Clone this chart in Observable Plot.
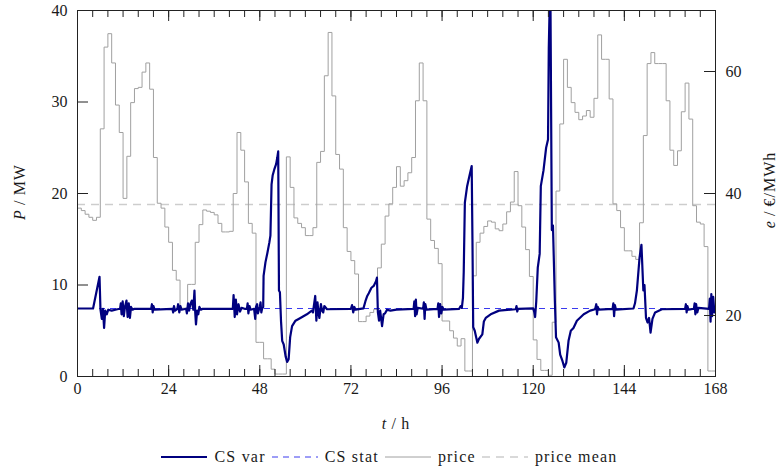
<!DOCTYPE html>
<html>
<head>
<meta charset="utf-8">
<script src="https://cdn.jsdelivr.net/npm/d3@7"></script>
<script src="https://cdn.jsdelivr.net/npm/@observablehq/plot@0.6"></script>
<style>
  html, body { margin: 0; padding: 0; background: #fff; overflow: hidden; }
  body { width: 779px; height: 469px; position: relative; font-family: "Liberation Serif", serif; color: #1a1a1a; }
  #legend { position: absolute; left: 0; top: 447px; width: 779px; height: 20px; display: flex; justify-content: center; align-items: center; font-size: 16px; letter-spacing: 1.2px; }
  #legend .item { display: flex; align-items: center; margin: 0 3px; }
  #legend svg { margin-right: 7px; }
</style>
</head>
<body>
<div id="chart"></div>
<div id="legend"></div>
<script>
// ---- data ----
const hours = d3.range(0, 168);               // hourly steps of the price series
const price = [                                // €/MWh, one value per hour
  37.6, 37.2, 36.6, 36.1, 35.6, 36.1,
  50.6, 64.0, 66.2, 61.4, 54.5, 50.0,
  39.2, 46.1, 54.9, 57.2, 57.4, 59.9,
  61.4, 57.1, 45.9, 38.4, 37.6, 34.5,
  32.0, 27.4, 25.8, 21.2, 21.2, 25.1,
  25.1, 32.0, 34.9, 37.3, 37.1, 36.9,
  36.5, 35.1, 33.7, 33.7, 33.8, 40.0,
  50.0, 47.1, 41.9, 35.1, 33.5, 15.6,
  15.6, 12.9, 12.9, 11.2, 10.4, 10.4,
  10.4, 46.0, 41.0, 36.0, 35.1, 34.4,
  33.1, 33.1, 34.4, 45.1, 46.9, 59.3,
  66.4, 56.0, 46.4, 44.0, 34.4, 30.5,
  29.0, 26.8, 19.0, 19.0, 19.9, 20.5,
  21.0, 27.8, 31.7, 36.3, 38.3, 41.0,
  44.4, 41.2, 42.1, 43.4, 45.9, 55.2,
  61.4, 55.2, 35.8, 32.3, 31.0, 28.5,
  19.1, 19.1, 17.5, 16.3, 15.0, 16.2,
  10.9, 10.9, 26.5, 32.0, 33.5, 34.6,
  35.5, 35.3, 34.2, 33.9, 35.0, 37.0,
  38.6, 43.6, 38.0, 34.5, 30.8, 26.4,
  16.0, 12.8, 11.0, 11.0, 10.2, 18.9,
  40.4, 51.4, 62.0, 57.4, 54.9, 53.3,
  52.1, 52.7, 53.6, 52.5, 55.6, 66.0,
  62.0, 62.0, 55.5, 38.3, 37.2, 34.4,
  30.6, 30.6, 29.7, 29.2, 35.2, 49.5,
  61.3, 63.1, 61.3, 61.3, 61.3, 55.2,
  47.1, 44.6, 47.0, 53.4, 58.1, 52.2,
  38.0, 35.3, 35.0, 31.3, 10.9, 10.9
];
const priceMean = 38.2;                         // €/MWh
const csStat = 7.43;                            // MW
const csVar = [                                 // [t (h), P (MW)]
  [0,7.43],[4.1,7.43],[5.8,10.9],[6.05,7.3],[6.4,6.3],[6.7,7.4],[7.0,5.3],[7.3,7.2],[7.7,6.8],[8.1,7.3],[9.0,7.2],[10.5,7.35],
  [11.2,7.4],[11.4,8.0],[11.6,6.8],[11.9,8.2],[12.2,6.6],[12.5,7.6],[12.9,8.3],[13.2,6.5],[13.5,8.0],[13.8,6.4],[14.1,7.6],[14.5,7.3],[15.0,7.4],
  [19.4,7.4],[19.6,7.9],[19.8,7.0],[20.0,7.7],[20.3,7.3],
  [25.0,7.4],[25.2,7.0],[25.4,7.7],[25.7,7.2],[26.3,7.4],[26.5,7.9],[26.8,7.0],[27.1,7.7],[27.4,7.3],
  [28.6,7.4],[28.8,6.9],[29.1,8.0],[29.4,7.2],[29.7,7.9],[30.1,8.3],[30.5,7.3],[30.8,9.4],[31.0,7.0],[31.2,5.7],[31.5,7.2],[31.8,6.8],[32.1,7.6],[32.5,7.3],[33.0,7.4],
  [40.9,7.4],[41.1,8.9],[41.4,6.5],[41.7,8.4],[42.0,6.8],[42.4,7.9],[42.8,7.1],[43.2,7.5],[44.0,7.4],
  [44.6,7.4],[44.8,8.0],[45.0,6.9],[45.3,7.7],[45.6,7.3],
  [46.5,7.4],[46.8,6.3],[47.0,7.6],[47.3,7.9],[47.5,6.9],[47.7,7.2],[48.0,7.6],[48.2,8.1],[48.4,7.0],[48.6,7.4],[48.9,7.6],
  [49.0,11.0],[49.5,12.5],[50.0,13.5],[50.5,14.6],[50.8,15.4],[51.1,21.0],[51.4,22.0],[51.8,22.6],[52.3,23.2],[52.6,23.9],[52.85,24.6],
  [53.05,9.4],[53.3,9.2],[53.6,6.0],[53.9,3.9],[54.3,3.5],[54.8,2.2],[55.2,1.6],[55.6,1.9],[56.0,4.3],[56.5,5.5],[57.4,6.1],[58.7,6.4],[60.4,6.8],[61.7,7.2],
  [62.0,7.0],[62.3,7.9],[62.6,8.8],[62.9,6.1],[63.2,8.1],[63.5,6.8],[63.7,6.4],[64.1,7.9],[64.4,7.2],[64.7,7.0],[65.0,7.7],[65.7,7.35],
  [72.0,7.4],[72.3,7.8],[72.6,7.0],[72.9,7.6],[73.2,7.3],
  [75.3,7.45],[75.8,8.2],[76.3,8.8],[76.7,9.1],[77.4,9.7],[78.0,9.9],[78.6,10.4],[78.85,10.8],[79.1,7.0],[79.4,6.1],[79.7,7.2],[80.2,5.5],[80.6,6.8],[81.0,6.9],[81.5,7.3],[82.4,7.2],[84.0,7.3],
  [88.5,7.4],[88.7,8.2],[88.9,6.6],[89.1,8.4],[89.3,6.8],[89.6,7.5],
  [91.0,7.4],[91.2,8.1],[91.4,6.3],[91.6,7.9],[91.9,7.3],
  [94.8,7.4],[95.0,8.0],[95.2,6.5],[95.5,7.9],[95.8,6.9],[96.1,7.6],[96.4,7.3],
  [100.5,7.4],[100.9,7.7],[101.2,7.5],[101.5,8.6],[101.7,11.4],[102.0,19.0],[102.6,20.8],[103.2,21.9],[103.8,23.0],
  [104.0,15.0],[104.2,5.4],[104.6,5.0],[105.3,3.7],[105.7,4.1],[106.6,4.6],[107.0,6.0],[107.5,6.4],[108.8,6.8],[111.0,7.2],
  [115.4,7.35],[115.6,7.7],[115.8,7.1],[116.0,7.4],[120.0,7.45],[120.3,7.0],[120.5,6.5],[120.8,8.2],
  [121.2,11.9],[121.7,13.4],[122.0,20.8],[122.7,22.5],[123.4,25.0],[123.9,25.9],[124.1,35.9],[124.5,44.0],
  [124.9,16.0],[125.2,16.5],[125.7,8.3],[126.0,4.3],[126.7,3.7],[127.1,2.4],[127.7,1.7],[128.2,1.0],[128.7,1.5],[129.3,3.9],[129.9,5.0],[130.6,5.3],[131.5,6.1],[133.3,6.8],[135.0,7.2],[136.3,7.35],
  [136.6,7.9],[136.8,6.8],[137.0,7.6],[137.3,7.3],
  [140.9,7.4],[141.1,8.0],[141.3,6.6],[141.5,7.8],[141.8,7.3],
  [146.4,7.43],[146.8,8.0],[147.3,9.4],[148.0,13.0],[148.5,14.4],[149.0,9.4],[149.3,10.0],[149.7,6.4],[150.1,5.9],[150.5,6.4],[150.9,4.8],[151.4,6.3],[152.1,7.0],[153.9,7.35],
  [160.0,7.4],[160.2,7.9],[160.4,7.0],[160.6,7.7],[160.9,7.3],
  [162.3,7.4],[162.5,8.0],[162.7,6.8],[162.9,7.9],[163.2,7.0],[163.5,7.5],
  [166.3,7.4],[166.5,8.5],[166.7,6.0],[166.9,9.0],[167.1,6.6],[167.4,8.7],[167.7,7.0],[168,7.6]
];
const xTickLabels = [0, 24, 48, 72, 96, 120, 144, 168];
const xMinorTicks = d3.range(0, 169, 4);
const yLeftTicks = [0, 10, 20, 30, 40];
const yRightTicks = [20, 40, 60];
const seriesNames = ["CS var", "CS stat", "price", "price mean"];
const seriesColors = ["#00007f", "#3a3aee", "#a0a0a0", "#cdcdcd"];
const seriesDash = [null, "6,5", null, "8,6"];
const seriesWidth = [2.2, 1, 1, 1.3];

// ---- right axis mapping: price domain [10, 70] onto P domain [0, 40] ----
const priceDomain = [10, 70], pDomain = [0, 40];
const toL = p => (p - priceDomain[0]) * (pDomain[1] - pDomain[0]) / (priceDomain[1] - priceDomain[0]);
const fromL = v => v * (priceDomain[1] - priceDomain[0]) / (pDomain[1] - pDomain[0]) + priceDomain[0];

const priceSteps = hours.map((h, i) => ({t: h, v: toL(price[i])}));
priceSteps.push({t: 168, v: toL(price[price.length - 1])});

// ---- layout ----
const W = 779, H = 440, mL = 77, mR = 64, mT = 10, mB = 64;
const plotW = W - mL - mR, plotH = H - mT - mB;
const majorLen = 11, minorLen = 7;
const axisColor = "#222";
const fontStack = "'Liberation Serif', serif";

const plot = Plot.plot({
  width: W, height: H,
  marginLeft: mL, marginRight: mR, marginTop: mT, marginBottom: mB,
  style: {fontFamily: fontStack, fontSize: "16px", color: "#1a1a1a", background: "white"},
  x: {domain: [0, 168], axis: null},
  y: {domain: pDomain, axis: null},
  marks: [
    Plot.ruleY([toL(priceMean)], {stroke: seriesColors[3], strokeWidth: seriesWidth[3], strokeDasharray: seriesDash[3]}),
    Plot.line(priceSteps, {x: "t", y: "v", curve: "step-after", stroke: seriesColors[2], strokeWidth: seriesWidth[2]}),
    Plot.ruleY([csStat], {stroke: seriesColors[1], strokeWidth: seriesWidth[1], strokeDasharray: seriesDash[1]}),
    Plot.line(csVar, {x: d => d[0], y: d => d[1], stroke: seriesColors[0], strokeWidth: seriesWidth[0], strokeLinejoin: "round", clip: true}),
    // inward tick marks on all four sides
    Plot.tickX(xMinorTicks, {x: d => d, insetTop: plotH - minorLen, stroke: axisColor}),
    Plot.tickX(xTickLabels, {x: d => d, insetTop: plotH - majorLen, stroke: axisColor}),
    Plot.tickX(xMinorTicks, {x: d => d, insetBottom: plotH - minorLen, stroke: axisColor}),
    Plot.tickX(xTickLabels, {x: d => d, insetBottom: plotH - majorLen, stroke: axisColor}),
    Plot.tickY(yLeftTicks, {y: d => d, insetRight: plotW - majorLen, stroke: axisColor}),
    Plot.tickY(yRightTicks.map(toL), {y: d => d, insetLeft: plotW - majorLen, stroke: axisColor}),
    // tick labels
    Plot.axisX(xTickLabels, {anchor: "bottom", tickSize: 0, tickPadding: 6, label: null}),
    Plot.axisY(yLeftTicks, {anchor: "left", tickSize: 0, tickPadding: 10, label: null}),
    Plot.axisY(yRightTicks.map(toL), {anchor: "right", tickSize: 0, tickPadding: 10, label: null, tickFormat: d => Math.round(fromL(d))}),
    Plot.frame({stroke: axisColor, strokeWidth: 1})
  ]
});
document.getElementById("chart").appendChild(plot);

// axis titles with italic symbols
const svg = d3.select(plot);
const addLabel = (x, y, rot, sym, rest) => {
  const t = svg.append("text")
    .attr("transform", `translate(${x},${y})` + (rot ? ` rotate(${rot})` : ""))
    .attr("text-anchor", "middle")
    .attr("font-family", fontStack)
    .attr("font-size", 16)
    .attr("letter-spacing", "1px")
    .attr("fill", "#1a1a1a");
  t.append("tspan").attr("font-style", "italic").text(sym);
  t.append("tspan").text(rest);
  return t;
};
addLabel(25, 192, -90, "P", "\u2009/\u2009MW");
addLabel(775, 190, -90, "e", "\u2009/\u2009€/MWh");
addLabel(396, 429, 0, "t", "\u2009/\u2009h");

// legend
const legend = d3.select("#legend");
seriesNames.forEach((name, i) => {
  const item = legend.append("span").attr("class", "item");
  const s = item.append("svg").attr("width", 46).attr("height", 10);
  s.append("line").attr("x1", 0).attr("x2", 46).attr("y1", 5).attr("y2", 5)
    .attr("stroke", seriesColors[i]).attr("stroke-width", seriesWidth[i])
    .attr("stroke-dasharray", seriesDash[i]);
  item.append("span").text(name);
});
</script>
</body>
</html>
